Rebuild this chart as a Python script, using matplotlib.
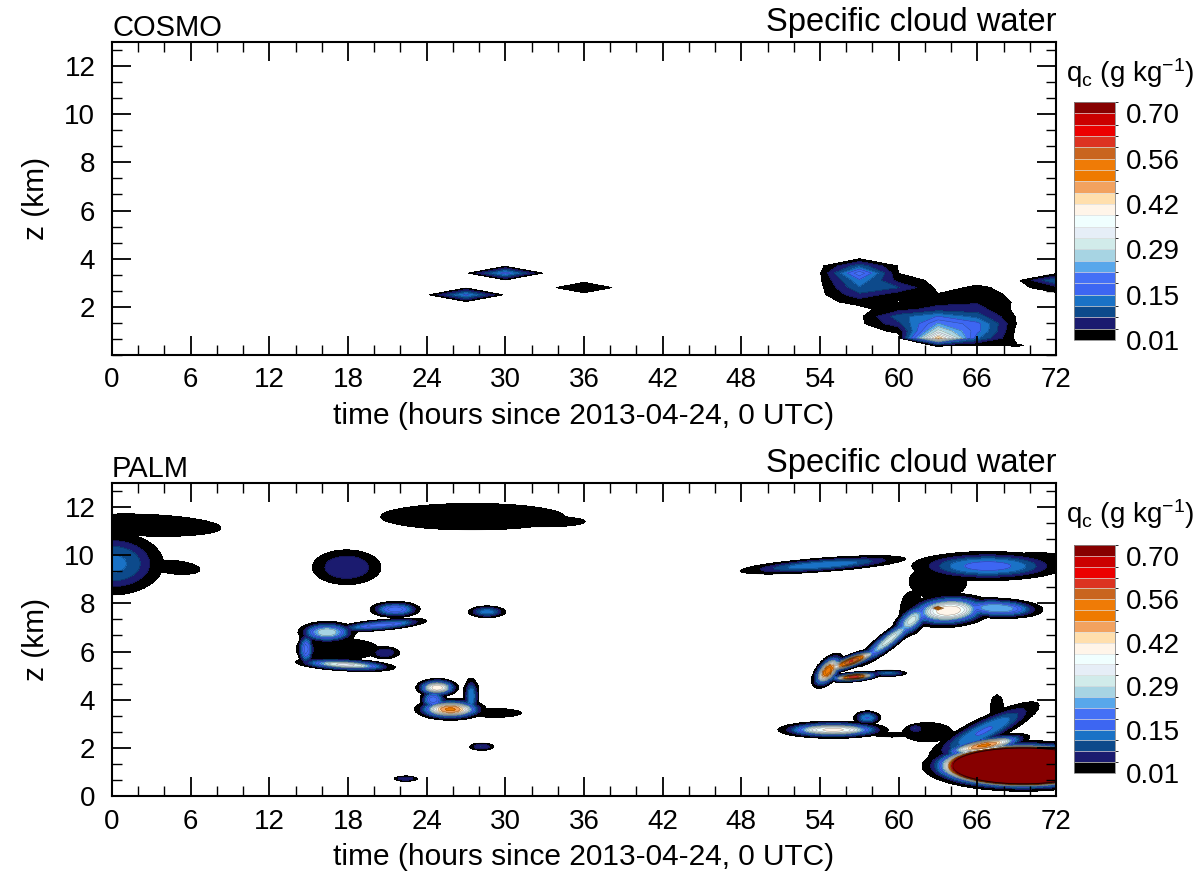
#!/usr/bin/env python3
"""Specific cloud water time-height sections, COSMO vs PALM."""

import numpy as np
import matplotlib
matplotlib.use("Agg")
import matplotlib.pyplot as plt
import matplotlib.cm as cm
from matplotlib.colors import ListedColormap, BoundaryNorm
from matplotlib.ticker import MultipleLocator, FixedLocator

# contour levels in g/kg, labelbar labels every 4th level
levels = np.linspace(0.01, 0.70, 21)
level_labels = ["0.01", "0.15", "0.29", "0.42", "0.56", "0.70"]
# fill colours bottom to top, the last one is the "above 0.70" box
fill_colors = [
    "#000000", "#1b1b6f", "#0d4a8b", "#1a72c6", "#3d66f2", "#4470f6",
    "#58a7eb", "#a7d4e3", "#d1ebea", "#e6eef7", "#f0ffff", "#fff5e9",
    "#ffdfad", "#f2a25f", "#ee7a00", "#ef7b06", "#c9651f", "#dc3321",
    "#ec0000", "#cb0000", "#870000",
]

# COSMO: 3-hourly output on levels every 0.3 km; only the cloudy grid points
cosmo_time = np.arange(0, 73, 3)
cosmo_z = 0.1 + 0.3 * np.arange(44)
cosmo_pt_t = [27, 30, 36,
              54, 54,
              57, 57, 57, 57, 57, 57, 57,
              60, 60, 60, 60, 60, 60,
              60, 60, 60, 60, 60,
              63, 63, 63, 63, 63, 63, 63, 63,
              66, 66, 66, 66, 66, 66, 66, 66, 66,
              69, 69, 69, 69,
              72, 72]
cosmo_pt_z = [2.5, 3.4, 2.8,
              3.1, 3.4,
              2.2, 2.5, 2.8, 3.1, 3.4, 3.7, 4.0,
              2.5, 2.8, 3.1, 3.4, 3.7, 2.2,
              1.0, 1.3, 1.6, 1.9, 2.2,
              0.4, 0.7, 1.0, 1.3, 1.6, 1.9, 2.2, 2.5,
              0.4, 0.7, 1.0, 1.3, 1.6, 1.9, 2.2, 2.5, 2.8,
              0.4, 1.3, 1.6, 2.2,
              2.8, 3.1]
cosmo_pt_q = [0.16, 0.17, 0.035,
              0.005, 0.006,
              0.02, 0.07, 0.11, 0.14, 0.21, 0.10, 0.009,
              0.02, 0.08, 0.03, 0.009, 0.006, 0.005,
              0.015, 0.07, 0.10, 0.03, 0.008,
              0.012, 0.46, 0.30, 0.22, 0.15, 0.06, 0.03, 0.012,
              0.005, 0.12, 0.16, 0.16, 0.10, 0.06, 0.04, 0.03, 0.015,
              0.012, 0.008, 0.006, 0.005,
              0.03, 0.12]

# PALM: cloud cells read off the section (centre, half extent of the 0.01 contour,
# peak value, tilt in km per hour)
palm_t0 = [2.5, 0.0, 4.8, 27.5, 33.0, 17.9, 21.6, 28.6,
           16.4, 20.5, 17.8, 14.8, 17.3, 20.8,
           24.8, 25.8, 27.4, 29.2, 24.5, 28.2, 22.4,
           54.2, 66.8, 70.5, 63.0,
           54.6, 56.6, 56.4, 59.2, 59.3, 61.0, 63.8, 67.5, 63.0, 61.0,
           55.0, 57.6, 59.5, 62.2, 61.3,
           69.5, 66.5, 66.5, 67.5]
palm_z0 = [11.25, 9.65, 9.5, 11.6, 11.4, 9.5, 7.75, 7.65,
           6.8, 7.1, 5.45, 6.1, 6.1, 5.95,
           4.5, 3.6, 4.15, 3.45, 4.0, 2.05, 0.72,
           9.6, 9.55, 9.95, 8.9,
           5.2, 4.95, 5.6, 5.1, 6.5, 7.3, 7.7, 7.8, 7.8, 7.6,
           2.75, 3.25, 2.55, 2.65, 2.8,
           1.25, 2.1, 2.7, 3.6]
palm_rt = [5.8, 3.9, 1.9, 7.0, 3.1, 2.6, 1.9, 1.4,
           2.2, 3.5, 3.8, 0.6, 3.0, 1.1,
           1.6, 2.7, 0.55, 2.0, 1.0, 0.9, 0.9,
           6.3, 5.8, 2.5, 2.2,
           1.2, 2.0, 2.4, 1.4, 2.6, 1.5, 3.4, 3.5, 0.8, 0.9,
           4.2, 1.0, 1.5, 1.9, 0.6,
           7.7, 3.5, 4.2, 0.5]
palm_rz = [0.45, 1.3, 0.28, 0.55, 0.22, 0.72, 0.33, 0.24,
           0.45, 0.22, 0.25, 0.7, 0.45, 0.25,
           0.38, 0.45, 0.75, 0.18, 0.4, 0.15, 0.1,
           0.28, 0.6, 0.15, 0.7,
           0.6, 0.2, 0.3, 0.12, 0.45, 0.6, 0.7, 0.42, 0.15, 0.9,
           0.35, 0.28, 0.1, 0.4, 0.18,
           1.05, 0.35, 0.6, 0.6]
palm_peak = [0.035, 0.12, 0.03, 0.035, 0.03, 0.075, 0.2, 0.13,
             0.28, 0.2, 0.33, 0.2, 0.035, 0.07,
             0.42, 0.5, 0.15, 0.035, 0.2, 0.08, 0.08,
             0.14, 0.16, 0.04, 0.035,
             0.55, 0.62, 0.6, 0.12, 0.3, 0.3, 0.42, 0.25, 0.55, 0.03,
             0.4, 0.15, 0.03, 0.035, 0.08,
             6.0, 0.5, 0.15, 0.035]
palm_slope = [-0.02, 0, -0.05, 0, 0, 0, 0, 0,
              0, 0.05, -0.03, 0, 0, 0,
              0, 0, 0, 0, 0, 0, 0,
              0.04, 0, 0, 0,
              0.35, 0.05, 0.2, 0, 0.4, 0.3, 0.03, -0.02, 0, 0,
              0, 0, 0, 0, 0,
              0, 0.1, 0.25, 0]
PALM_EDGE = 3.0  # flatness of the cells

XLABEL = "time (hours since 2013-04-24, 0 UTC)"
CB_TITLE = r"q$_\mathrm{c}$ (g kg$^{-1}$)"

plt.rcParams.update({
    "font.family": ["Liberation Sans", "DejaVu Sans"],
    "mathtext.fontset": "custom",
    "mathtext.rm": "Liberation Sans",
    "mathtext.it": "Liberation Sans:italic",
})


def cosmo_field():
    q = np.zeros((len(cosmo_z), len(cosmo_time)))
    for t, z, v in zip(cosmo_pt_t, cosmo_pt_z, cosmo_pt_q):
        i = int(np.argmin(np.abs(cosmo_z - z)))
        j = int(np.argmin(np.abs(cosmo_time - t)))
        q[i, j] = v
    return cosmo_time, cosmo_z, q


def palm_field():
    t = np.linspace(0, 72, 289)
    z = np.linspace(0, 13, 261)
    T, Z = np.meshgrid(t, z)
    q = np.zeros_like(T)
    for t0, z0, rt, rz, pk, sl in zip(palm_t0, palm_z0, palm_rt, palm_rz,
                                     palm_peak, palm_slope):
        r = np.hypot((T - t0) / rt, (Z - z0 - sl * (T - t0)) / rz)
        cell = pk * (levels[0] / pk) ** np.minimum(r ** PALM_EDGE, 50.0)
        q = np.maximum(q, cell)
    return t, z, q


def style_axes(ax, yticks):
    ax.set_xlim(0, 72)
    ax.set_ylim(0, 13)
    ax.xaxis.set_major_locator(MultipleLocator(6))
    ax.xaxis.set_minor_locator(MultipleLocator(2))
    ax.yaxis.set_major_locator(FixedLocator(yticks))
    ax.yaxis.set_minor_locator(FixedLocator([k * 2.0 / 3.0 for k in range(20)]))
    ax.tick_params(which="both", direction="in", top=True, right=True, labelsize=20)
    ax.tick_params(which="major", length=14, width=1.3)
    ax.tick_params(which="minor", length=7, width=1.0)
    ax.tick_params(axis="x", pad=9)
    ax.tick_params(axis="y", pad=12)
    for sp in ax.spines.values():
        sp.set_linewidth(1.5)
    ax.set_xlabel(XLABEL, fontsize=21.5, labelpad=6)
    ax.set_ylabel("z (km)", fontsize=21.5, labelpad=10)


def add_labelbar(fig, rect):
    cax = fig.add_axes(rect)
    bounds = np.append(levels, levels[-1] + (levels[1] - levels[0]))
    cmap = ListedColormap(fill_colors)
    norm = BoundaryNorm(bounds, cmap.N)
    sm = cm.ScalarMappable(norm=norm, cmap=cmap)
    cb = fig.colorbar(sm, cax=cax, ticks=levels[::4], drawedges=True)
    cb.ax.set_yticklabels(level_labels)
    cb.ax.tick_params(length=0, labelsize=20, pad=8)
    cb.outline.set_linewidth(0.6)
    cb.outline.set_edgecolor("#888888")
    cb.dividers.set_color("#dddddd")
    cb.dividers.set_linewidth(0.5)
    return cb


fig = plt.figure(figsize=(11.98, 8.89), dpi=100)

panels = [
    ("COSMO", cosmo_field(), [0.0935, 0.6007, 0.788, 0.3521], [2, 4, 6, 8, 10, 12],
     [0.8965, 0.6175, 0.0342, 0.2677], 0.918),
    ("PALM", palm_field(), [0.0935, 0.1046, 0.788, 0.3521], [0, 2, 4, 6, 8, 10, 12],
     [0.8965, 0.1305, 0.0342, 0.2565], 0.422),
]

for name, (t, z, q), rect, yticks, cb_rect, cb_title_y in panels:
    ax = fig.add_axes(rect)
    ax.contourf(t, z, q, levels=levels, colors=fill_colors, extend="max")
    ax.contour(t, z, q, levels=levels, colors="k", linewidths=0.3, alpha=0.45)
    style_axes(ax, yticks)
    ax.text(0.0, 1.0, name, transform=ax.transAxes, ha="left", va="bottom",
            fontsize=21)
    ax.text(1.0, 1.012, "Specific cloud water", transform=ax.transAxes,
            ha="right", va="bottom", fontsize=23.5)
    add_labelbar(fig, cb_rect)
    fig.text(0.943, cb_title_y, CB_TITLE, ha="center", va="center", fontsize=20)

fig.savefig("out.png", dpi=100, facecolor="white")
plt.close(fig)
